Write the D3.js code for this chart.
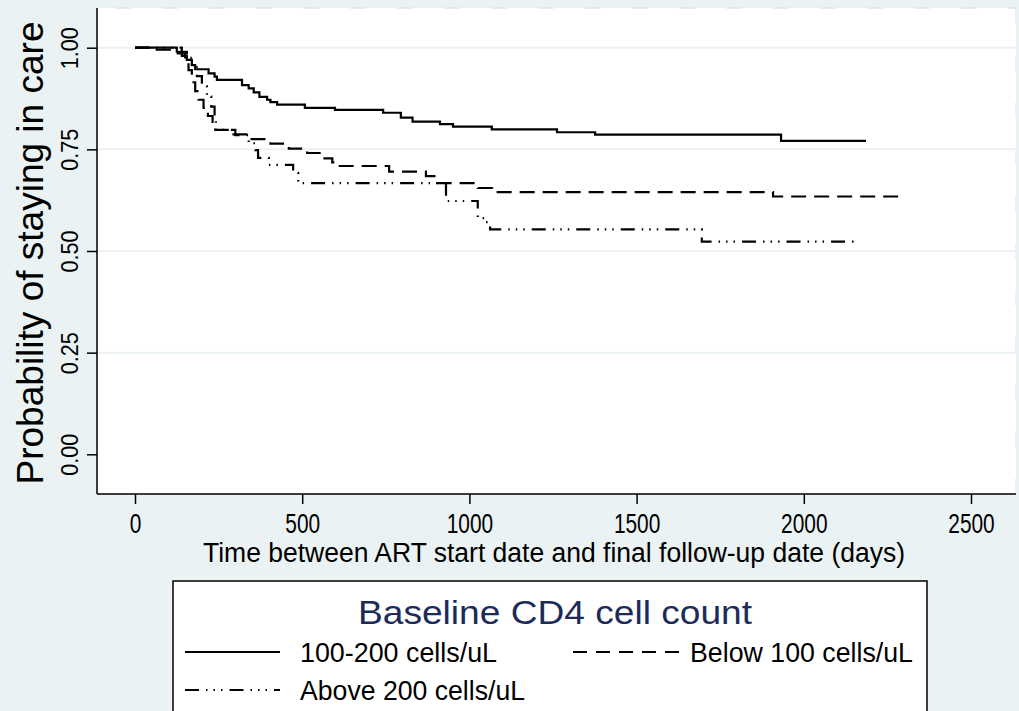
<!DOCTYPE html>
<html>
<head>
<meta charset="utf-8">
<script src="https://cdn.jsdelivr.net/npm/d3@7"></script>
<style>
  body { margin: 0; background: #eaf2f3; }
  svg { display: block; font-family: "Liberation Sans", Arial, sans-serif; }
</style>
</head>
<body>
<script>
// Kaplan-Meier steps: [day, survival]
const midDays = [0, 125, 140, 155, 170, 180, 220, 238, 245, 320, 340, 355, 372, 395, 405, 425, 508, 598, 742, 795, 830, 912, 951, 1067, 1262, 1376, 1932, 2186];
const midSurv = [1, 0.99, 0.98, 0.97, 0.957, 0.947, 0.937, 0.929, 0.921, 0.908, 0.9, 0.89, 0.879, 0.872, 0.866, 0.86, 0.852, 0.847, 0.84, 0.828, 0.818, 0.812, 0.806, 0.799, 0.792, 0.786, 0.771, 0.771];

const lowDays = [0, 65, 128, 150, 160, 170, 180, 190, 205, 218, 232, 240, 290, 340, 405, 460, 515, 560, 590, 605, 760, 870, 905, 1025, 1068, 1908, 2288];
const lowSurv = [1, 0.995, 0.986, 0.965, 0.945, 0.915, 0.893, 0.872, 0.852, 0.832, 0.81, 0.798, 0.787, 0.775, 0.764, 0.752, 0.741, 0.728, 0.718, 0.709, 0.695, 0.684, 0.667, 0.655, 0.645, 0.634, 0.634];

const highDays = [0, 140, 155, 170, 185, 200, 215, 228, 238, 242, 300, 340, 360, 368, 400, 473, 488, 930, 1025, 1045, 1062, 1695, 2153];
const highSurv = [1, 0.99, 0.975, 0.955, 0.93, 0.905, 0.88, 0.855, 0.83, 0.798, 0.785, 0.765, 0.748, 0.729, 0.712, 0.692, 0.667, 0.623, 0.581, 0.571, 0.553, 0.523, 0.523];

const xTicks = [0, 500, 1000, 1500, 2000, 2500];
const yTicks = [0, 0.25, 0.5, 0.75, 1];
const yGrid = [0.25, 0.5, 0.75, 1];

const seriesNames = ["100-200 cells/uL", "Below 100 cells/uL", "Above 200 cells/uL"];
const legendTitle = "Baseline CD4 cell count";
const xTitle = "Time between ART start date and final follow-up date (days)";
const yTitle = "Probability of staying in care";

const width = 1019;
const height = 711;
const plot = { left: 97, right: 1016, top: 8, bottom: 494 };

const svg = d3.select("body")
	.append("svg")
	.attr("width", width)
	.attr("height", height);

svg.append("rect")
	.attr("width", width)
	.attr("height", height)
	.attr("fill", "#eaf2f3");

// plot region
svg.append("rect")
	.attr("x", plot.left)
	.attr("y", plot.top)
	.attr("width", plot.right - plot.left)
	.attr("height", plot.bottom - plot.top)
	.attr("fill", "#ffffff");

// faint dashed border at top and right
svg.append("line")
	.attr("x1", plot.left + 18).attr("x2", plot.right)
	.attr("y1", plot.top).attr("y2", plot.top)
	.attr("stroke", "#dde6e9").attr("stroke-width", 1.5)
	.attr("stroke-dasharray", "16,31");
svg.append("line")
	.attr("x1", plot.right).attr("x2", plot.right)
	.attr("y1", plot.top).attr("y2", plot.bottom)
	.attr("stroke", "#e6eef0").attr("stroke-width", 1.5)
	.attr("stroke-dasharray", "16,31");

const x = d3.scaleLinear().domain([0, 2500]).range([135, 971]);
const y = d3.scaleLinear().domain([0, 1]).range([454.3, 47.7]);

// gridlines
svg.append("g")
	.selectAll("line")
	.data(yGrid)
	.join("line")
	.attr("x1", plot.left)
	.attr("x2", plot.right)
	.attr("y1", (d) => y(d))
	.attr("y2", (d) => y(d))
	.attr("stroke", "#eaf2f3")
	.attr("stroke-width", 2);

// squeeze text, the original font is a narrow one
const squeeze = (sel, k) => {
	sel.each(function () {
		const w = this.getComputedTextLength();
		d3.select(this).attr("textLength", w * k).attr("lengthAdjust", "spacingAndGlyphs");
	});
};

// x axis
const xAxis = svg.append("g")
	.attr("transform", `translate(0 ${plot.bottom})`)
	.call(d3.axisBottom(x).tickValues(xTicks).tickSize(10).tickPadding(9).tickFormat(d3.format("d")));
xAxis.select(".domain").remove();
xAxis.selectAll(".tick line").attr("stroke", "#000").attr("stroke-width", 1.5);
xAxis.selectAll(".tick text")
	.attr("font-size", 28)
	.attr("font-family", "Liberation Sans, Arial, sans-serif")
	.attr("fill", "#000")
	.each(function (d) {
		const s = String(d);
		d3.select(this).attr("textLength", s.length * 11.6).attr("lengthAdjust", "spacingAndGlyphs");
	});

// y axis
const yAxis = svg.append("g")
	.attr("transform", `translate(${plot.left} 0)`)
	.call(d3.axisLeft(y).tickValues(yTicks).tickSize(10).tickFormat(d3.format(".2f")));
yAxis.select(".domain").remove();
yAxis.selectAll(".tick line").attr("stroke", "#000").attr("stroke-width", 1.5);
yAxis.selectAll(".tick text")
	.attr("font-size", 24)
	.attr("font-family", "Liberation Sans, Arial, sans-serif")
	.attr("fill", "#000")
	.attr("x", null)
	.attr("dy", null)
	.attr("text-anchor", "middle")
	.attr("transform", "translate(-19 0) rotate(-90)")
	.call(squeeze, 0.9);

// axis lines
svg.append("line")
	.attr("x1", plot.left).attr("x2", plot.left)
	.attr("y1", plot.top).attr("y2", plot.bottom)
	.attr("stroke", "#000").attr("stroke-width", 1.5);
svg.append("line")
	.attr("x1", plot.left).attr("x2", plot.right)
	.attr("y1", plot.bottom).attr("y2", plot.bottom)
	.attr("stroke", "#000").attr("stroke-width", 1.5);

// axis titles
svg.append("text")
	.attr("x", 554)
	.attr("y", 562)
	.attr("text-anchor", "middle")
	.attr("font-size", 27)
	.attr("textLength", 702)
	.attr("lengthAdjust", "spacingAndGlyphs")
	.text(xTitle);

svg.append("text")
	.attr("transform", "translate(43 253) rotate(-90)")
	.attr("text-anchor", "middle")
	.attr("font-size", 37)
	.attr("textLength", 463)
	.attr("lengthAdjust", "spacingAndGlyphs")
	.text(yTitle);

// survival curves
const dashes = ["none", "15,8", "14,7,1.5,6,1.5,6,1.5,7"];
const curves = [
	d3.zip(midDays, midSurv),
	d3.zip(lowDays, lowSurv),
	d3.zip(highDays, highSurv),
];
const line = d3.line()
	.x((d) => x(d[0]))
	.y((d) => y(d[1]))
	.curve(d3.curveStepAfter);

svg.append("g")
	.selectAll("path")
	.data(curves)
	.join("path")
	.attr("d", line)
	.attr("fill", "none")
	.attr("stroke", "#000")
	.attr("stroke-width", 2.2)
	.attr("stroke-dasharray", (d, i) => dashes[i]);

// legend
const legend = svg.append("g");
legend.append("rect")
	.attr("x", 173)
	.attr("y", 581)
	.attr("width", 754)
	.attr("height", 160)
	.attr("fill", "#fff")
	.attr("stroke", "#000")
	.attr("stroke-width", 1.5);

legend.append("text")
	.attr("x", 555)
	.attr("y", 624)
	.attr("text-anchor", "middle")
	.attr("font-size", 33)
	.attr("fill", "#1c2b5a")
	.attr("textLength", 394)
	.attr("lengthAdjust", "spacingAndGlyphs")
	.text(legendTitle);

const legendItems = [
	{ x1: 185, x2: 280, ly: 652, tx: 300, w: 197 },
	{ x1: 573, x2: 680, ly: 652, tx: 690, w: 223 },
	{ x1: 185, x2: 280, ly: 690, tx: 300, w: 225 },
];
legendItems.forEach((it, i) => {
	legend.append("line")
		.attr("x1", it.x1).attr("x2", it.x2)
		.attr("y1", it.ly).attr("y2", it.ly)
		.attr("stroke", "#000")
		.attr("stroke-width", 2)
		.attr("stroke-dasharray", i === 1 ? "14,9" : dashes[i]);
	legend.append("text")
		.attr("x", it.tx)
		.attr("y", it.ly + 10)
		.attr("font-size", 27)
		.attr("textLength", it.w)
		.attr("lengthAdjust", "spacingAndGlyphs")
		.text(seriesNames[i]);
});
</script>
</body>
</html>
